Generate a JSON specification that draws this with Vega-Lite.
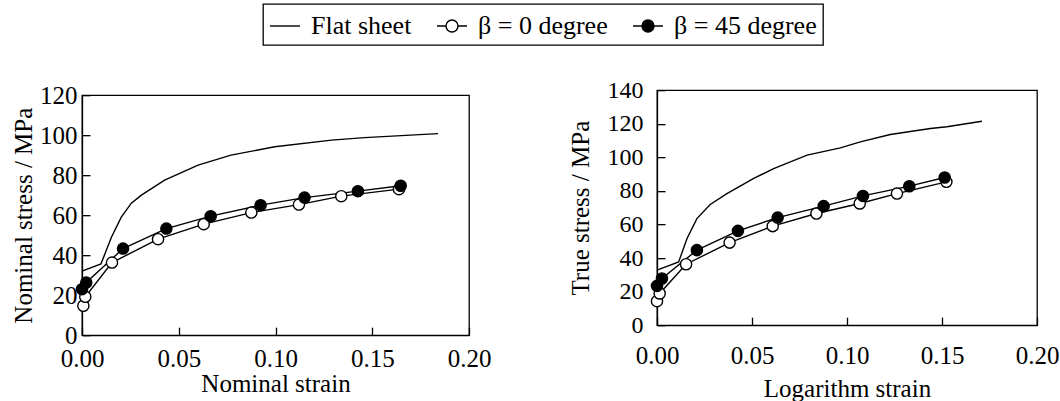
{
  "$schema": "https://vega.github.io/schema/vega-lite/v6.json",
  "background": "white",
  "padding": {"left": 10, "top": 3, "right": 5, "bottom": 5},
  "datasets": {
    "nominal": [
      {"series": "Flat sheet", "strain": 0.0, "stress": 32.0},
      {"series": "Flat sheet", "strain": 0.0098, "stress": 35.6},
      {"series": "Flat sheet", "strain": 0.0152, "stress": 49.0},
      {"series": "Flat sheet", "strain": 0.0203, "stress": 59.0},
      {"series": "Flat sheet", "strain": 0.0255, "stress": 66.0},
      {"series": "Flat sheet", "strain": 0.0307, "stress": 70.0},
      {"series": "Flat sheet", "strain": 0.0427, "stress": 77.5},
      {"series": "Flat sheet", "strain": 0.06, "stress": 85.0},
      {"series": "Flat sheet", "strain": 0.077, "stress": 90.0},
      {"series": "Flat sheet", "strain": 0.0996, "stress": 94.2},
      {"series": "Flat sheet", "strain": 0.129, "stress": 97.5},
      {"series": "Flat sheet", "strain": 0.146, "stress": 98.8},
      {"series": "Flat sheet", "strain": 0.184, "stress": 100.8},
      {"series": "β = 0 degree", "strain": 0.0007, "stress": 14.7},
      {"series": "β = 0 degree", "strain": 0.0017, "stress": 19.2},
      {"series": "β = 0 degree", "strain": 0.0155, "stress": 36.3},
      {"series": "β = 0 degree", "strain": 0.0393, "stress": 48.0},
      {"series": "β = 0 degree", "strain": 0.0629, "stress": 55.5},
      {"series": "β = 0 degree", "strain": 0.0875, "stress": 61.3},
      {"series": "β = 0 degree", "strain": 0.1121, "stress": 65.3},
      {"series": "β = 0 degree", "strain": 0.134, "stress": 69.5},
      {"series": "β = 0 degree", "strain": 0.1638, "stress": 73.0},
      {"series": "β = 45 degree", "strain": 0.0, "stress": 23.0},
      {"series": "β = 45 degree", "strain": 0.0022, "stress": 26.3},
      {"series": "β = 45 degree", "strain": 0.0212, "stress": 43.3},
      {"series": "β = 45 degree", "strain": 0.0436, "stress": 53.3},
      {"series": "β = 45 degree", "strain": 0.0665, "stress": 59.5},
      {"series": "β = 45 degree", "strain": 0.0923, "stress": 65.0},
      {"series": "β = 45 degree", "strain": 0.115, "stress": 68.8},
      {"series": "β = 45 degree", "strain": 0.1426, "stress": 72.0},
      {"series": "β = 45 degree", "strain": 0.1647, "stress": 74.7}
    ],
    "true": [
      {"series": "Flat sheet", "strain": 0.0, "stress": 32.8},
      {"series": "Flat sheet", "strain": 0.0114, "stress": 37.7},
      {"series": "Flat sheet", "strain": 0.0158, "stress": 51.6},
      {"series": "Flat sheet", "strain": 0.021, "stress": 63.5},
      {"series": "Flat sheet", "strain": 0.028, "stress": 71.9},
      {"series": "Flat sheet", "strain": 0.0368, "stress": 78.4},
      {"series": "Flat sheet", "strain": 0.0509, "stress": 87.4},
      {"series": "Flat sheet", "strain": 0.0614, "stress": 93.3},
      {"series": "Flat sheet", "strain": 0.079, "stress": 101.3},
      {"series": "Flat sheet", "strain": 0.0965, "stress": 105.6},
      {"series": "Flat sheet", "strain": 0.107, "stress": 109.2},
      {"series": "Flat sheet", "strain": 0.1228, "stress": 113.6},
      {"series": "Flat sheet", "strain": 0.1439, "stress": 117.2},
      {"series": "Flat sheet", "strain": 0.1526, "stress": 118.2},
      {"series": "Flat sheet", "strain": 0.171, "stress": 121.5},
      {"series": "β = 0 degree", "strain": 0.0, "stress": 14.3},
      {"series": "β = 0 degree", "strain": 0.0014, "stress": 18.9},
      {"series": "β = 0 degree", "strain": 0.0153, "stress": 36.3},
      {"series": "β = 0 degree", "strain": 0.0382, "stress": 49.2},
      {"series": "β = 0 degree", "strain": 0.0609, "stress": 59.0},
      {"series": "β = 0 degree", "strain": 0.0839, "stress": 66.5},
      {"series": "β = 0 degree", "strain": 0.1067, "stress": 72.5},
      {"series": "β = 0 degree", "strain": 0.1263, "stress": 78.4},
      {"series": "β = 0 degree", "strain": 0.1523, "stress": 85.4},
      {"series": "β = 45 degree", "strain": 0.0, "stress": 23.4},
      {"series": "β = 45 degree", "strain": 0.0026, "stress": 27.8},
      {"series": "β = 45 degree", "strain": 0.021, "stress": 44.7},
      {"series": "β = 45 degree", "strain": 0.0426, "stress": 56.2},
      {"series": "β = 45 degree", "strain": 0.0635, "stress": 64.1},
      {"series": "β = 45 degree", "strain": 0.0877, "stress": 70.9},
      {"series": "β = 45 degree", "strain": 0.1084, "stress": 77.0},
      {"series": "β = 45 degree", "strain": 0.1328, "stress": 82.8},
      {"series": "β = 45 degree", "strain": 0.1514, "stress": 88.0}
    ]
  },
  "spacing": 75,
  "center": true,
  "hconcat": [
    {
      "width": 387,
      "height": 240,
      "data": {"name": "nominal"},
      "encoding": {
        "x": {"field": "strain", "type": "quantitative", "scale": {"domain": [0, 0.2], "nice": false},
              "axis": {"title": "Nominal strain", "values": [0, 0.05, 0.1, 0.15, 0.2], "format": ".2f", "labelPadding": 19, "titlePadding": 0, "labelFontSize": 25, "titleFontSize": 25}},
        "y": {"field": "stress", "type": "quantitative", "scale": {"domain": [0, 120], "nice": false},
              "axis": {"title": "Nominal stress / MPa", "values": [0, 20, 40, 60, 80, 100, 120], "labelPadding": 13, "titlePadding": 3, "labelFontSize": 25, "titleFontSize": 25}}
      },
      "layer": [
        {"mark": {"type": "line", "stroke": "black", "strokeWidth": 1.4}, "encoding": {"detail": {"field": "series"}}},
        {"transform": [{"filter": "datum.series !== 'Flat sheet'"}],
         "mark": {"type": "point", "shape": "circle", "size": 125, "stroke": "black", "strokeWidth": 1.4, "opacity": 1, "filled": true},
         "encoding": {"fill": {"condition": {"test": "datum.series === 'β = 45 degree'", "value": "black"}, "value": "white"}}},
        {"transform": [{"filter": "datum.series !== 'Flat sheet'"}],
         "mark": {"type": "point", "opacity": 0, "stroke": "black", "strokeWidth": 1.4, "filled": false},
         "encoding": {
           "shape": {"field": "series", "type": "nominal",
                     "scale": {"domain": ["Flat sheet", "β = 0 degree", "β = 45 degree"],
                               "range": ["M-1,0H1", "M-1,0H-0.4M0.4,0H1M0.4,0A0.4,0.4,0,1,1,-0.4,0A0.4,0.4,0,1,1,0.4,0", "M-1,0H1M0.4,0A0.4,0.4,0,1,1,-0.4,0A0.4,0.4,0,1,1,0.4,0"]},
                     "legend": {"title": null, "symbolStrokeColor": "black", "symbolStrokeWidth": 1.4,
                                "encode": {"symbols": {"update": {"stroke": {"value": "black"}, "strokeWidth": {"value": 1.4}, "opacity": {"value": 1}}}}}},
           "fill": {"field": "series", "type": "nominal",
                    "scale": {"domain": ["Flat sheet", "β = 0 degree", "β = 45 degree"], "range": ["transparent", "white", "black"]},
                    "legend": {"title": null, "symbolStrokeColor": "black", "symbolStrokeWidth": 1.4,
                               "encode": {"symbols": {"update": {"stroke": {"value": "black"}, "strokeWidth": {"value": 1.4}, "opacity": {"value": 1}}}}}}
         }}
      ]
    },
    {
      "width": 380,
      "height": 235,
      "data": {"name": "true"},
      "encoding": {
        "x": {"field": "strain", "type": "quantitative", "scale": {"domain": [0, 0.2], "nice": false},
              "axis": {"title": "Logarithm strain", "values": [0, 0.05, 0.1, 0.15, 0.2], "format": ".2f", "labelPadding": 26, "titlePadding": 8, "labelFontSize": 25, "titleFontSize": 25}},
        "y": {"field": "stress", "type": "quantitative", "scale": {"domain": [0, 140], "nice": false},
              "axis": {"title": "True stress / MPa", "values": [0, 20, 40, 60, 80, 100, 120, 140], "labelPadding": 22, "titlePadding": 14, "labelFontSize": 24, "titleFontSize": 25}}
      },
      "layer": [
        {"mark": {"type": "line", "stroke": "black", "strokeWidth": 1.4}, "encoding": {"detail": {"field": "series"}}},
        {"transform": [{"filter": "datum.series !== 'Flat sheet'"}],
         "mark": {"type": "point", "shape": "circle", "size": 125, "stroke": "black", "strokeWidth": 1.4, "opacity": 1, "filled": true},
         "encoding": {"fill": {"condition": {"test": "datum.series === 'β = 45 degree'", "value": "black"}, "value": "white"}}}
      ]
    }
  ],
  "config": {
    "font": "Liberation Serif",
    "view": {"stroke": "black", "strokeWidth": 1.3},
    "axis": {
      "grid": false, "domainColor": "black", "domainWidth": 1.3, "tickColor": "black", "tickWidth": 1.3, "tickSize": -8,
      "labelColor": "black", "titleColor": "black", "labelFont": "Liberation Serif", "titleFont": "Liberation Serif",
      "titleFontWeight": "normal", "labelFlush": false, "labelOverlap": false
    },
    "legend": {
      "orient": "none", "legendX": 181, "legendY": -86, "direction": "horizontal",
      "strokeColor": "black", "strokeWidth": 1.3, "padding": 6,
      "symbolSize": 900, "symbolStrokeColor": "black", "symbolStrokeWidth": 1.4, "symbolOpacity": 1,
      "labelFont": "Liberation Serif", "labelFontSize": 26, "labelColor": "black", "labelOffset": 10,
      "columnPadding": 22, "labelLimit": 300
    }
  }
}
